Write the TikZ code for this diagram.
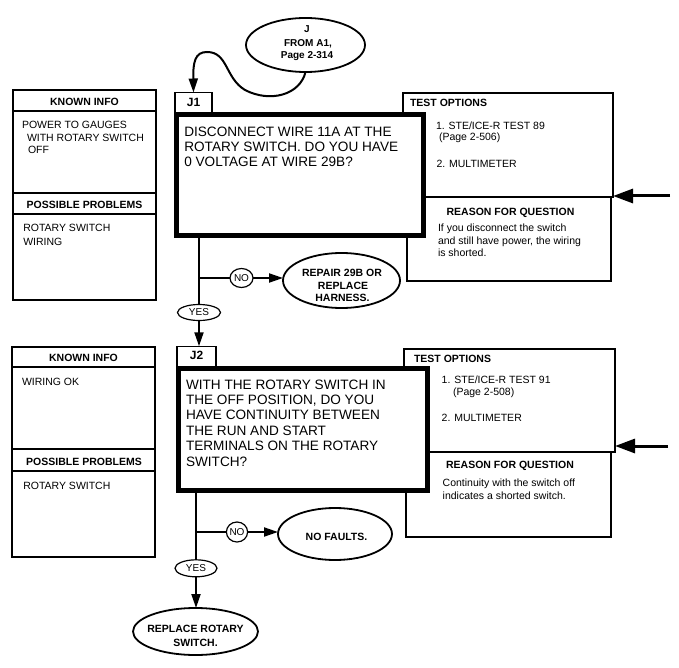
\documentclass[tikz,border=0pt]{standalone}
\usepackage{fontspec}
\setmainfont{Liberation Sans}
\usetikzlibrary{arrows.meta,shapes.geometric}
\begin{document}
\begin{tikzpicture}[x=1pt,y=-1pt,
  every node/.style={inner sep=0pt, outer sep=0pt},
  sm/.style={font=\fontsize{10.5}{12.7}\selectfont},
  smb/.style={font=\fontsize{10.5}{12.7}\selectfont\bfseries},
  ovb/.style={font=\fontsize{10}{12}\selectfont\bfseries},
  big/.style={font=\fontsize{13.6}{15}\selectfont},
  tabtxt/.style={font=\fontsize{12}{14}\selectfont\bfseries, anchor=base},
  lw/.style={anchor=base west},
  lc/.style={anchor=base},
  panel/.style={draw, line width=1.3pt, rectangle},
  qbox/.style={draw, line width=5pt, fill=white, rectangle},
  tabbox/.style={draw, line width=1.4pt, rectangle},
  conn/.style={line width=2pt, -{Triangle[length=14pt,width=9pt]}},
  plain/.style={line width=2pt},
  oval/.style={draw, ellipse, line width=1.8pt},
  yn/.style={draw, ellipse, line width=1.2pt, font=\fontsize{10}{12}\selectfont},
  bigarrow/.style={line width=3pt, -{Triangle[length=20pt,width=14pt]}},
]
\useasboundingbox (0,0) rectangle (679,668);

% ---------- top entry ellipse ----------
\node[oval, minimum width=119, minimum height=54] (ej) at (305.5,45) {};
\node[ovb, lc] (eja) at (307,33) {J};
\node[ovb, lc] (ejb) at (308,46.7) {FROM A1,};
\node[ovb, lc] (ejc) at (307,58.5) {Page 2-314};

% ---------- left panel 1 ----------
\node[panel, minimum width=143, minimum height=210] (kp1) at (84.5,195) {};
\draw[line width=1.3pt] (kp1.west |- 0,111) -- (kp1.east |- 0,111);
\draw[line width=1.8pt] (kp1.west |- 0,193) -- (kp1.east |- 0,193);
\draw[line width=1.3pt] (kp1.west |- 0,214) -- (kp1.east |- 0,214);
\node[smb, lc] (kp1h) at (84.5,106) {KNOWN INFO};
\node[sm, lw] (kp1a) at (22,129) {POWER TO GAUGES};
\node[sm, lw] (kp1b) at (27,142) {WITH ROTARY SWITCH};
\node[sm, lw] (kp1c) at (28,154) {OFF};
\node[smb, lc] (kp1p) at (84.5,209) {POSSIBLE PROBLEMS};
\node[sm, lw] (kp1d) at (23.3,232) {ROTARY SWITCH};
\node[sm, lw] (kp1e) at (23.3,245) {WIRING};

% ---------- test options / reason 1 ----------
\node[panel, minimum width=204, minimum height=84] (rq1) at (509,239) {};
\node[panel, line width=1.5pt, minimum width=210, minimum height=104] (to1) at (508,145) {};
\node[smb, lw] (to1h) at (410,106.5) {TEST OPTIONS};
\node[sm, lw] (to1a) at (436,130) {1. STE/ICE-R TEST 89};
\node[sm, lw] (to1b) at (439,141) {(Page 2-506)};
\node[sm, lw] (to1c) at (436.5,167.5) {2. MULTIMETER};
\node[smb, lc] (rq1h) at (510.5,215) {REASON FOR QUESTION};
\node[sm, lw] (rq1a) at (438,231) {If you disconnect the switch};
\node[sm, lw] (rq1b) at (438,244) {and still have power, the wiring};
\node[sm, lw] (rq1c) at (438,256) {is shorted.};
\coordinate (ar1) at (670,196);
\draw[bigarrow] (ar1) -- (ar1 -| to1.east);

% ---------- J1 ----------
\node[tabbox, minimum width=37, minimum height=21.5] (t1) at (193.5,103.25) {};
\node[qbox, minimum width=247, minimum height=121.3] (q1) at (300,174.85) {};
\node[tabtxt] (t1l) at (193.5,106.7) {J1};
\node[big, lw] (q1a) at (184.3,137) {DISCONNECT WIRE 11A AT THE};
\node[big, lw] (q1b) at (184.3,152) {ROTARY SWITCH. DO YOU HAVE};
\node[big, lw] (q1c) at (184.3,167) {0 VOLTAGE AT WIRE 29B?};

\draw[conn] (ej.south) .. controls (300,95) and (270,103) .. (245,90)
  .. controls (225,78) and (228,52) .. (207,52)
  .. controls (195,52) and (193,62) .. (t1.north);

% ---------- J1 branches ----------
\coordinate (b1) at (199,278);
\node[yn, minimum width=43, minimum height=16] (yes1) at (199,312.5) {YES};
\node[yn, minimum width=23, minimum height=19] (no1) at (241.5,278) {NO};
\node[oval, minimum width=117, minimum height=55] (rep) at (341.5,280.5) {};
\node[smb, lc] (repa) at (342,276) {REPAIR 29B OR};
\node[smb, lc] (repb) at (343,289) {REPLACE};
\node[smb, lc] (repc) at (342.5,301) {HARNESS.};
\draw[plain] (q1.south -| b1) -- (yes1.north);
\draw[plain] (b1) -- (no1.west);
\draw[conn] (no1.east) -- (no1.east -| rep.west);

% ---------- left panel 2 ----------
\node[panel, minimum width=143, minimum height=210] (kp2) at (83.5,452) {};
\draw[line width=1.3pt] (kp2.west |- 0,367) -- (kp2.east |- 0,367);
\draw[line width=1.8pt] (kp2.west |- 0,449) -- (kp2.east |- 0,449);
\draw[line width=1.3pt] (kp2.west |- 0,471) -- (kp2.east |- 0,471);
\node[smb, lc] (kp2h) at (83.5,361.7) {KNOWN INFO};
\node[sm, lw] (kp2a) at (22,385) {WIRING OK};
\node[smb, lc] (kp2p) at (84,465) {POSSIBLE PROBLEMS};
\node[sm, lw] (kp2d) at (23.3,489.3) {ROTARY SWITCH};

% ---------- test options / reason 2 (under J2 box) ----------
\node[panel, minimum width=205, minimum height=85] (rq2) at (508.5,494.5) {};
\node[panel, line width=1.5pt, minimum width=211, minimum height=103] (to2) at (509.5,400.5) {};
\node[smb, lw] (to2h) at (414,362.7) {TEST OPTIONS};
\node[sm, lw] (to2a) at (441.7,383.3) {1. STE/ICE-R TEST 91};
\node[sm, lw] (to2b) at (453,395.7) {(Page 2-508)};
\node[sm, lw] (to2c) at (441.7,421) {2. MULTIMETER};
\node[smb, lc] (rq2h) at (510,468.3) {REASON FOR QUESTION};
\node[sm, lw] (rq2a) at (442.7,486) {Continuity with the switch off};
\node[sm, lw] (rq2b) at (442.7,499) {indicates a shorted switch.};
\coordinate (ar2) at (668,446);
\draw[bigarrow] (ar2) -- (ar2 -| to2.east);

% ---------- J2 ----------
\node[tabbox, minimum width=39, minimum height=22.5] (t2) at (196.5,357.5) {};
\node[qbox, minimum width=249, minimum height=122] (q2) at (303,429.5) {};
\node[tabtxt] (t2l) at (196.5,359.3) {J2};
\draw[conn] (yes1.south) -- (yes1.south |- t2.north);
\node[big, lw] (q2a) at (186,389.3) {WITH THE ROTARY SWITCH IN};
\node[big, lw] (q2b) at (186,404.5) {THE OFF POSITION, DO YOU};
\node[big, lw] (q2c) at (186,419.7) {HAVE CONTINUITY BETWEEN};
\node[big, lw] (q2d) at (186,435) {THE RUN AND START};
\node[big, lw] (q2e) at (186,450.5) {TERMINALS ON THE ROTARY};
\node[big, lw] (q2f) at (186,466) {SWITCH?};

% ---------- J2 branches ----------
\coordinate (b2) at (196,532);
\node[yn, minimum width=42, minimum height=17] (yes2) at (196,568.3) {YES};
\node[yn, minimum width=21, minimum height=20] (no2) at (237,532) {NO};
\node[oval, minimum width=114, minimum height=52] (nf) at (335,534) {};
\node[smb, lc] (nfa) at (336.5,540.7) {NO FAULTS.};
\node[oval, minimum width=125, minimum height=47] (rp) at (195.5,631.5) {};
\node[smb, lc] (rpa) at (195.5,632.7) {REPLACE ROTARY};
\node[smb, lc] (rpb) at (195.5,646) {SWITCH.};
\draw[plain] (q2.south -| b2) -- (yes2.north);
\draw[plain] (b2) -- (no2.west);
\draw[conn] (no2.east) -- (no2.east -| nf.west);
\draw[conn] (yes2.south) -- (yes2.south |- rp.north);
\end{tikzpicture}
\end{document}
